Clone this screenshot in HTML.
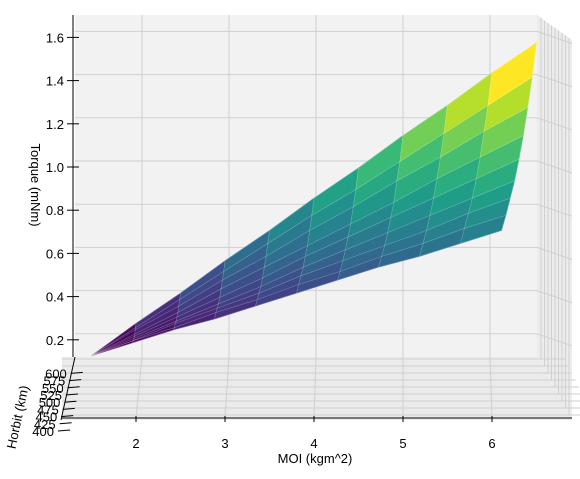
<!DOCTYPE html>
<html><head><meta charset="utf-8"><style>
body{margin:0;background:#fff}
svg{display:block;font-family:"Liberation Sans","DejaVu Sans",sans-serif}
</style></head><body>
<svg id="c" width="580" height="479">
<g id="panes"></g>
<g id="surf"></g>
<g id="axes"></g>
</svg>
<script>
const moiVals=[1.5,2,2.5,3,3.5,4,4.5,5,5.5,6,6.5];
const horbitVals=[400,425,450,475,500,525,550,575,600];
const torque=[
[0.14,0.29,0.43,0.58,0.72,0.87,1.01,1.16,1.30,1.45,1.59],
[0.14,0.27,0.40,0.53,0.66,0.79,0.91,1.04,1.17,1.30,1.43],
[0.14,0.26,0.37,0.49,0.60,0.72,0.83,0.95,1.06,1.18,1.29],
[0.14,0.24,0.34,0.45,0.55,0.65,0.75,0.85,0.96,1.06,1.16],
[0.14,0.23,0.32,0.41,0.50,0.60,0.69,0.78,0.87,0.96,1.05],
[0.14,0.22,0.30,0.38,0.46,0.55,0.63,0.71,0.79,0.87,0.95],
[0.14,0.21,0.29,0.36,0.43,0.51,0.58,0.65,0.72,0.80,0.87],
[0.14,0.21,0.27,0.34,0.40,0.47,0.53,0.60,0.66,0.73,0.79],
[0.14,0.20,0.26,0.31,0.37,0.43,0.49,0.55,0.60,0.66,0.72]];
const xTicks=[2,3,4,5,6];
const zTicks=[0.2,0.4,0.6,0.8,1.0,1.2,1.4,1.6];
const hTicks=[400,425,450,475,500,525,550,575,600];

const NS="http://www.w3.org/2000/svg";
function mk(tag,attrs,parent){const e=document.createElementNS(NS,tag);for(const k in attrs)e.setAttribute(k,attrs[k]);parent.appendChild(e);return e;}
function px(moi,h){const hn=(h-400)/200;return 136+(moi-2)*89-hn*(moi-1.5)*7;}
function py(t){return 386-216*t;}
const vir=[[68,1,84],[72,40,120],[62,74,137],[49,104,142],[38,130,142],[31,158,137],[53,183,121],[109,205,89],[180,222,44],[253,231,37]];
function viridis(v){v=Math.max(0,Math.min(1,v));const f=v*9,i=Math.min(8,Math.floor(f)),r=f-i;const a=vir[i],b=vir[i+1];return `rgb(${a.map((c,k)=>Math.round(c+(b[k]-c)*r)).join(',')})`;}

const panes=document.getElementById('panes');
let p=mk('rect',{x:75,y:15,width:462,height:342,fill:'#f2f2f2'},panes);

p=mk('polygon',{points:'537,15 572,40 572,420 537,357',fill:'#ececec'},panes);

p=mk('polygon',{points:'62,357 537,357 572,420 62,420',fill:'#ebebeb'},panes);

zTicks.forEach(z=>{const y=py(z)-9;const l=mk('line',{x1:75,y1:y,x2:537,y2:y,stroke:'#cfcfcf','stroke-width':1},panes);

const l2=mk('line',{x1:537,y1:y,x2:572,y2:y+12,stroke:'#cfcfcf','stroke-width':1},panes);
});
xTicks.forEach(m=>{const xb=142+(m-2)*87,xf=136+(m-2)*89;
const l=mk('polyline',{points:`${xb},15 ${xb},357 ${xf},418`,fill:'none',stroke:'#cfcfcf','stroke-width':1},panes);
});
hTicks.forEach((h,i)=>{const y=415-i*7;const x=541+(8-i)*3.5;
const l=mk('line',{x1:62,y1:y,x2:x+24,y2:y,stroke:'#cfcfcf','stroke-width':1},panes);

const v=mk('line',{x1:x,y1:18+(8-i)*2.5,x2:x,y2:y,stroke:'#cfcfcf','stroke-width':1},panes);
});

const surf=document.getElementById('surf');
const faces=[];
for(let r=horbitVals.length-2;r>=0;r--){for(let c=0;c<moiVals.length-1;c++){
const avg=(torque[r][c]+torque[r][c+1]+torque[r+1][c]+torque[r+1][c+1])/4;faces.push([r,c,avg]);}}
const fmin=Math.min(...faces.map(f=>f[2])),fmax=Math.max(...faces.map(f=>f[2]));
faces.forEach(([r,c,avg])=>{
const pts=[[c,r],[c+1,r],[c+1,r+1],[c,r+1]].map(([cc,rr])=>[px(moiVals[cc],horbitVals[rr]),py(torque[rr][cc])]);
const col=viridis((avg-fmin)/(fmax-fmin));
const f=mk('polygon',{points:pts.map(q=>q.join(',')).join(' '),fill:col,stroke:col,'stroke-width':0.6},surf);
});
for(let r=0;r<horbitVals.length;r++){const pts=moiVals.map((m,c)=>px(m,horbitVals[r])+','+py(torque[r][c])).join(' ');
const l=mk('polyline',{points:pts,fill:'none',stroke:'rgba(255,255,255,0.3)','stroke-width':0.6},surf);
}
for(let c=0;c<moiVals.length;c++){const pts=horbitVals.map((h,r)=>px(moiVals[c],h)+','+py(torque[r][c])).join(' ');
const l=mk('polyline',{points:pts,fill:'none',stroke:'rgba(255,255,255,0.3)','stroke-width':0.6},surf);
}

const axes=document.getElementById('axes');
let a=mk('line',{x1:73,y1:15,x2:73,y2:357,stroke:'#000','stroke-width':1},axes);

zTicks.forEach(z=>{const y=py(z)-3;
const t=mk('line',{x1:67,y1:y,x2:79,y2:y,stroke:'#000','stroke-width':1},axes);

const tx=mk('text',{x:64,y:y+5,'text-anchor':'end','font-size':13},axes);tx.textContent=z.toFixed(1);
});
a=mk('line',{x1:62,y1:418,x2:572,y2:418,stroke:'#000','stroke-width':1},axes);

xTicks.forEach(m=>{const x=136+(m-2)*89;
const t=mk('line',{x1:x,y1:416,x2:x,y2:422,stroke:'#000','stroke-width':1},axes);

const tx=mk('text',{x:x,y:448,'text-anchor':'middle','font-size':13},axes);tx.textContent=m;
});
a=mk('line',{x1:75,y1:357,x2:61,y2:420,stroke:'#000','stroke-width':1},axes);

hTicks.forEach((h,i)=>{const y=436-i*7.2;const x=54+i*1.6;
const t=mk('line',{x1:x+4,y1:y-5,x2:x+16,y2:y-6,stroke:'#000','stroke-width':1},axes);

const tx=mk('text',{x:x,y:y,'text-anchor':'end','font-size':13},axes);tx.textContent=h;
});
let lb=mk('text',{x:315,y:463,'text-anchor':'middle','font-size':13},axes);lb.textContent='MOI (kgm^2)';

lb=mk('text',{x:0,y:0,'text-anchor':'middle','font-size':13,transform:'translate(31,185) rotate(90)'},axes);lb.textContent='Torque (mNm)';

lb=mk('text',{x:0,y:0,'text-anchor':'middle','font-size':13,transform:'translate(22,418) rotate(-78)'},axes);lb.textContent='Horbit (km)';

</script>
</body></html>
